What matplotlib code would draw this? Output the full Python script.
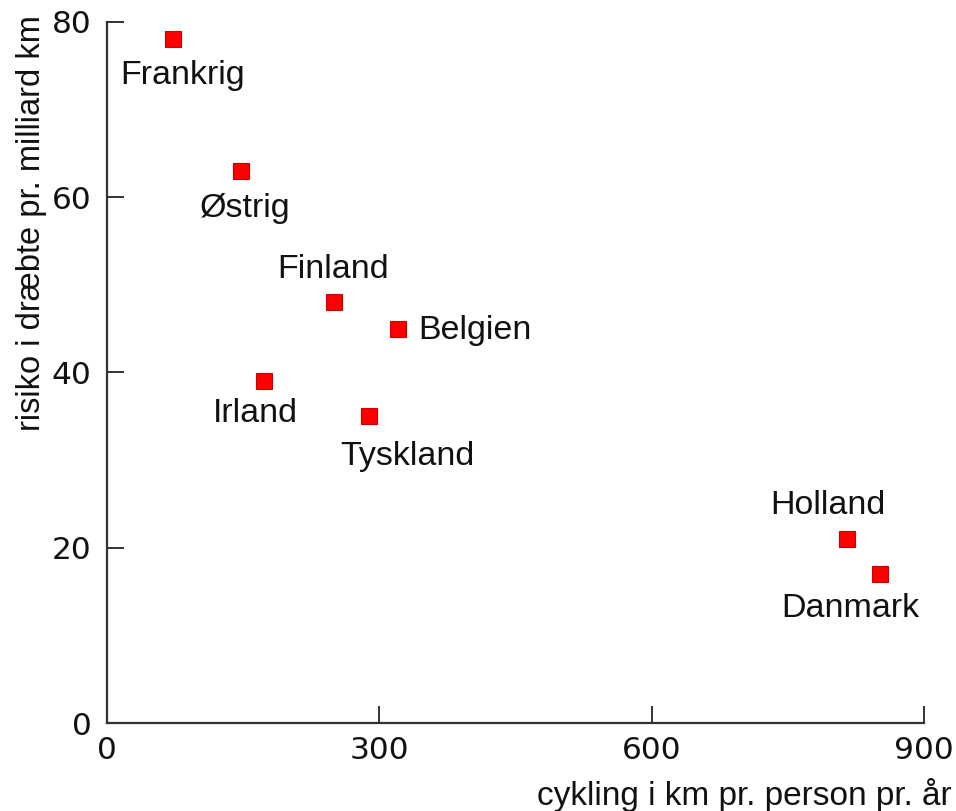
import matplotlib.pyplot as plt

lande = ['Frankrig', 'Østrig', 'Finland', 'Belgien', 'Irland', 'Tyskland', 'Holland', 'Danmark']
cykling = [73, 148, 250, 320, 173, 289, 815, 852]
risiko = [78, 63, 48, 45, 39, 35, 21, 17]
# label offsets (points) and alignment per country
offsets = [(7, -26, 'center'), (3, -27, 'center'), (-1, 24, 'center'), (15, -1, 'left'),
           (-6, -23, 'center'), (27, -29, 'center'), (-14, 24, 'center'), (-22, -25, 'center')]

fig = plt.figure(figsize=(9.56, 8.11), dpi=100)
ax = fig.add_axes([0.112, 0.1085, 0.8545, 0.8645])

ax.plot(cykling, risiko, 's', color='#ff0000', markeredgecolor='#cc0000',
        markeredgewidth=0.8, markersize=11, clip_on=False, zorder=3)

for navn, x, y, (dx, dy, ha) in zip(lande, cykling, risiko, offsets):
    ax.annotate(navn, (x, y), xytext=(dx, dy), textcoords='offset points',
                ha=ha, va='center', fontsize=24.5, family='Liberation Sans', color='#111111')

ax.set_xlim(0, 900)
ax.set_ylim(0, 80)
ax.set_xticks([0, 300, 600, 900])
ax.set_yticks([0, 20, 40, 60, 80])

for side in ['top', 'right']:
    ax.spines[side].set_visible(False)
for side in ['left', 'bottom']:
    ax.spines[side].set_linewidth(1.6)
    ax.spines[side].set_color('#333333')

ax.tick_params(direction='in', length=12, width=1.4, color='#333333',
               labelsize=22.5, labelcolor='#111111')
ax.tick_params(axis='y', pad=11)
ax.tick_params(axis='x', pad=9)

ax.set_xlabel('cykling i km pr. person pr. år', fontsize=24, family='Liberation Sans',
              color='#111111', loc='right')
ax.xaxis.set_label_coords(1.034, -0.078)
ax.set_ylabel('risiko i dræbte pr. milliard km', fontsize=23.5,
              family=['Liberation Sans Narrow', 'Liberation Sans'], color='#111111',
              loc='top')
ax.yaxis.set_label_coords(-0.073, 1.01)

fig.savefig('out.png', dpi=100)
